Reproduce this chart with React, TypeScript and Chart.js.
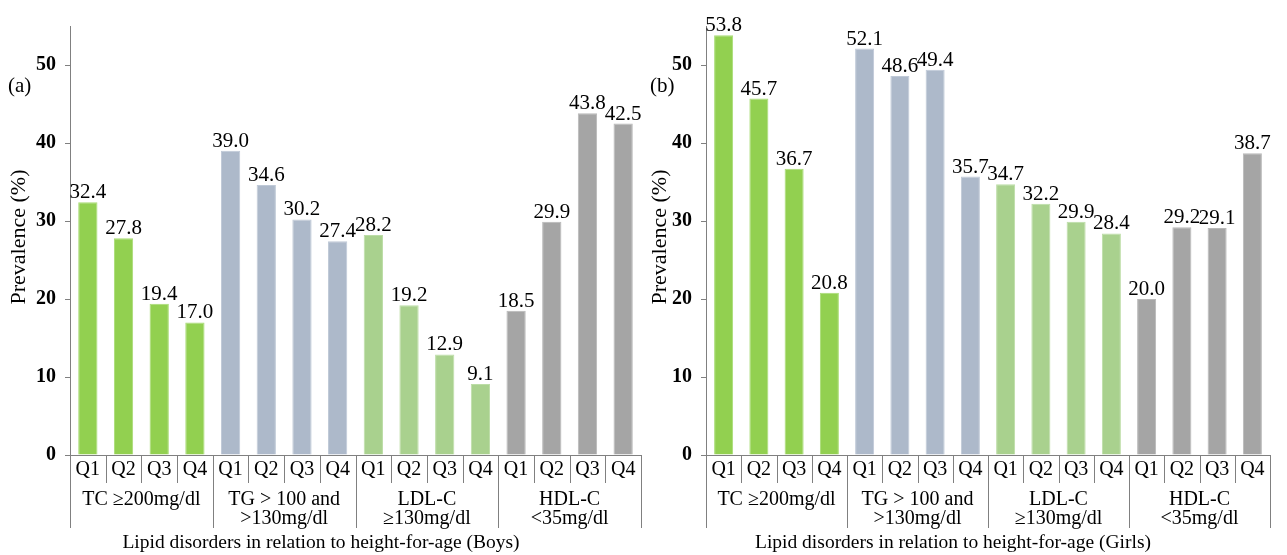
import React, { useEffect, useRef } from "react";
import { Chart, registerables } from "chart.js";

Chart.register(...registerables);

const quartiles = ["Q1", "Q2", "Q3", "Q4"];
const groupLines = [["TC \u2265200mg/dl"], ["TG > 100 and", ">130mg/dl"], ["LDL-C", "\u2265130mg/dl"], ["HDL-C", "<35mg/dl"]];
const groupColors = ["#92D050", "#ADB9CA", "#A9D18E", "#A5A5A5"];
const groupBorders = ["#A8DC74", "#BFC9D7", "#BCDDA6", "#B8B8B8"];
const yTicks = [0, 10, 20, 30, 40, 50];

const boysTC = [32.4, 27.8, 19.4, 17.0];
const boysTG = [39.0, 34.6, 30.2, 27.4];
const boysLDL = [28.2, 19.2, 12.9, 9.1];
const boysHDL = [18.5, 29.9, 43.8, 42.5];

const girlsTC = [53.8, 45.7, 36.7, 20.8];
const girlsTG = [52.1, 48.6, 49.4, 35.7];
const girlsLDL = [34.7, 32.2, 29.9, 28.4];
const girlsHDL = [20.0, 29.2, 29.1, 38.7];

const FONT = "'Liberation Serif', 'Times New Roman', serif";
const AXIS_GRAY = "#808080";

type PanelProps = {
  groups: number[][];
  panelLabel: string;
  xTitle: string;
  width: number;
  yAxisWidth: number;
  padRight: number;
  titleX: number;
  yTitleX: number;
  labelX: number;
};

function Panel({ groups, panelLabel, xTitle, width, yAxisWidth, padRight, titleX, yTitleX, labelX }: PanelProps) {
  const ref = useRef<HTMLCanvasElement | null>(null);
  useEffect(() => {
    if (!ref.current) return;
    const labels: string[] = [];
    const values: number[] = [];
    const bg: string[] = [];
    const bd: string[] = [];
    groups.forEach((g, gi) => {
      g.forEach((v, qi) => {
        labels.push(quartiles[qi]);
        values.push(v);
        bg.push(groupColors[gi]);
        bd.push(groupBorders[gi]);
      });
    });

    const overlay = {
      id: "overlay",
      afterDraw(chart: any) {
        const ctx = chart.ctx;
        const area = chart.chartArea;
        const meta = chart.getDatasetMeta(0);
        ctx.save();
        // value labels
        ctx.fillStyle = "#000";
        ctx.font = `21px ${FONT}`;
        ctx.textAlign = "center";
        ctx.textBaseline = "alphabetic";
        meta.data.forEach((bar: any, i: number) => {
          ctx.fillText(values[i].toFixed(1), bar.x, bar.y - 4);
        });
        // separators
        const n = labels.length;
        const step = (area.right - area.left) / n;
        ctx.strokeStyle = AXIS_GRAY;
        ctx.lineWidth = 1;
        for (let i = 0; i <= n; i++) {
          const x = Math.round(area.left + i * step) + 0.5;
          const bottom = i % 4 === 0 ? 528 : 483;
          ctx.beginPath();
          ctx.moveTo(x, area.bottom);
          ctx.lineTo(x, bottom);
          ctx.stroke();
        }
        // group labels
        ctx.font = `20px ${FONT}`;
        ctx.textBaseline = "middle";
        const gw = (area.right - area.left) / 4;
        groupLines.forEach((lines, gi) => {
          const cx = area.left + gw * (gi + 0.5);
          lines.forEach((t, li) => {
            ctx.fillText(t, cx, 500 + li * 19);
          });
        });
        // x title
        ctx.font = `19.5px ${FONT}`;
        ctx.fillText(xTitle, titleX, 543);
        // y title
        ctx.save();
        ctx.translate(yTitleX, 237);
        ctx.rotate(-Math.PI / 2);
        ctx.font = `22px ${FONT}`;
        ctx.fillText("Prevalence (%)", 0, 0);
        ctx.restore();
        // panel label
        ctx.font = `21px ${FONT}`;
        ctx.textAlign = "left";
        ctx.fillText(panelLabel, labelX, 86);
        ctx.restore();
      },
    };

    const chart = new Chart(ref.current, {
      type: "bar",
      data: {
        labels,
        datasets: [
          {
            data: values,
            backgroundColor: bg,
            borderColor: bd,
            borderWidth: 1,
            barPercentage: 0.54,
            categoryPercentage: 1,
          },
        ],
      },
      options: {
        responsive: false,
        animation: false,
        events: [],
        layout: { padding: { left: 0, right: padRight, top: 26, bottom: 0 } },
        plugins: { legend: { display: false }, tooltip: { enabled: false } },
        scales: {
          x: {
            grid: { display: false, drawTicks: false },
            border: { display: true, color: AXIS_GRAY, width: 1 },
            ticks: {
              color: "#000",
              font: { family: FONT, size: 20 },
              padding: 3,
              autoSkip: false,
              maxRotation: 0,
            },
            afterFit: (s: any) => {
              s.height = 100;
            },
          },
          y: {
            min: 0,
            max: 55,
            afterBuildTicks: (s: any) => {
              s.ticks = yTicks.map((v) => ({ value: v }));
            },
            grid: { drawOnChartArea: false, drawTicks: true, tickLength: 5, color: AXIS_GRAY },
            border: { display: true, color: AXIS_GRAY, width: 1 },
            ticks: {
              color: "#000",
              font: { family: FONT, size: 20, weight: "bold" },
              padding: 9,
            },
            afterFit: (s: any) => {
              s.width = yAxisWidth;
            },
          },
        },
      },
      plugins: [overlay],
    });
    return () => chart.destroy();
  }, []);
  return <canvas ref={ref} width={width} height={555} style={{ width, height: 555, display: "block" }} />;
}

export default function App() {
  return (
    <div style={{ position: "absolute", left: 0, top: 0, width: 1287, height: 555, display: "flex", background: "#fff" }}>
      <Panel
        groups={[boysTC, boysTG, boysLDL, boysHDL]}
        panelLabel="(a)"
        xTitle="Lipid disorders in relation to height-for-age (Boys)"
        width={643}
        yAxisWidth={70}
        padRight={2}
        titleX={321}
        yTitleX={19}
        labelX={8}
      />
      <Panel
        groups={[girlsTC, girlsTG, girlsLDL, girlsHDL]}
        panelLabel="(b)"
        xTitle="Lipid disorders in relation to height-for-age (Girls)"
        width={644}
        yAxisWidth={63}
        padRight={17}
        titleX={310}
        yTitleX={17}
        labelX={7}
      />
    </div>
  );
}
